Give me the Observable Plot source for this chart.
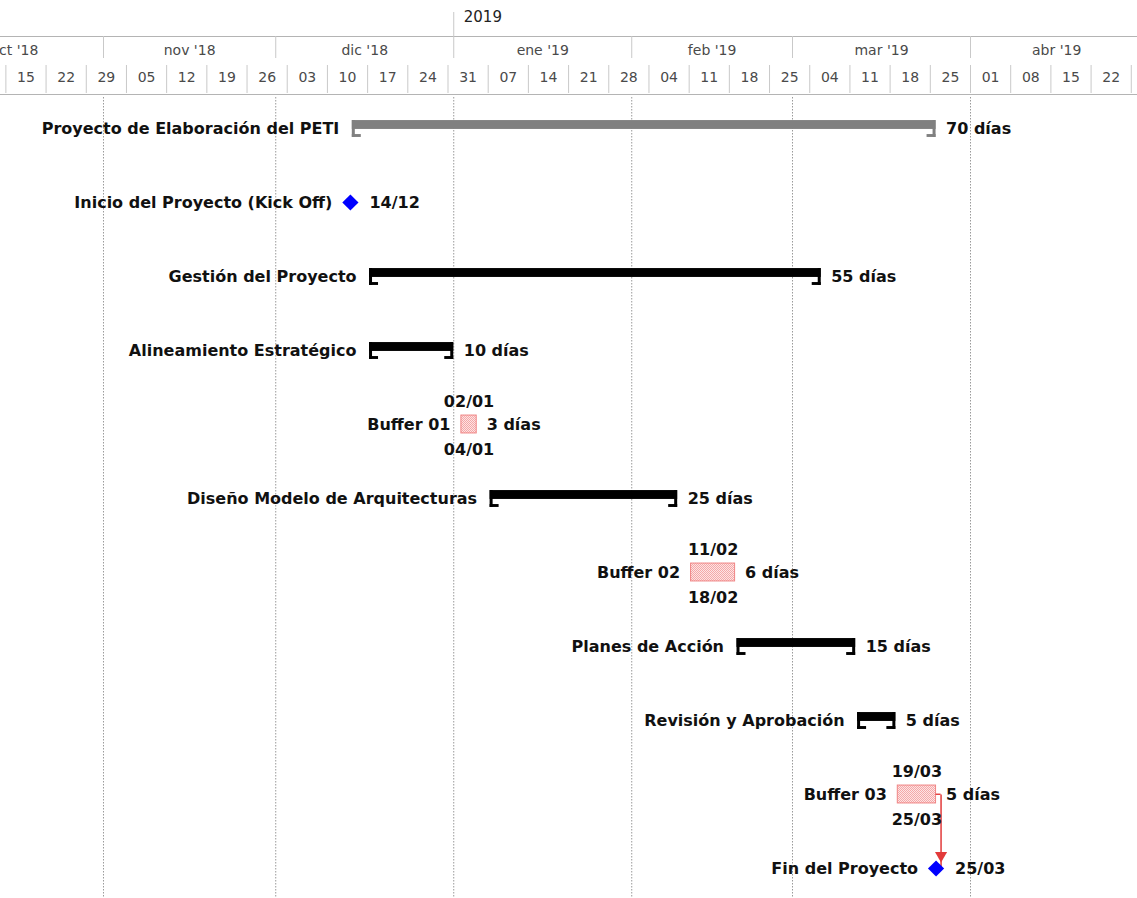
<!DOCTYPE html>
<html><head><meta charset="utf-8">
<script src="https://cdn.jsdelivr.net/npm/d3@7"></script>
<script src="https://cdn.jsdelivr.net/npm/@observablehq/plot@0.6"></script>
<style>
body{margin:0;background:#fff;overflow:hidden;}
#chart svg{display:block}
</style></head><body><div id="chart"></div>
<script>
// ---- data ----
const tasks = ["Proyecto de Elaboración del PETI","Inicio del Proyecto (Kick Off)","Gestión del Proyecto","Alineamiento Estratégico","Buffer 01","Diseño Modelo de Arquitecturas","Buffer 02","Planes de Acción","Revisión y Aprobación","Buffer 03","Fin del Proyecto"];
const kinds = ["summary","milestone","task","task","buffer","task","buffer","task","task","buffer","milestone"];
const starts = ["2018-12-14","2018-12-14","2018-12-17","2018-12-17","2019-01-02","2019-01-07","2019-02-11","2019-02-19","2019-03-12","2019-03-19","2019-03-25"];
const finishes = ["2019-03-25","2018-12-13","2019-03-05","2018-12-31","2019-01-04","2019-02-08","2019-02-18","2019-03-11","2019-03-18","2019-03-25","2019-03-25"];
const rightLabels = ["70 días","14/12","55 días","10 días","3 días","25 días","6 días","15 días","5 días","5 días","25/03"];
const links = [["Buffer 03","Fin del Proyecto"]];

const monthStarts = ["2018-10-01","2018-11-01","2018-12-01","2019-01-01","2019-02-01","2019-03-01","2019-04-01"];
const monthLabels = ["oct '18","nov '18","dic '18","ene '19","feb '19","mar '19","abr '19"];
const weekStarts = ["2018-10-15","2018-10-22","2018-10-29","2018-11-05","2018-11-12","2018-11-19","2018-11-26","2018-12-03","2018-12-10","2018-12-17","2018-12-24","2018-12-31","2019-01-07","2019-01-14","2019-01-21","2019-01-28","2019-02-04","2019-02-11","2019-02-18","2019-02-25","2019-03-04","2019-03-11","2019-03-18","2019-03-25","2019-04-01","2019-04-08","2019-04-15","2019-04-22","2019-04-29"];
const weekLabels = ["15","22","29","05","12","19","26","03","10","17","24","31","07","14","21","28","04","11","18","25","04","11","18","25","01","08","15","22","29"];
const yearStarts = ["2019-01-01"];
const yearLabels = ["2019"];

// ---- build ----
const pd = d3.utcParse("%Y-%m-%d");
const fmt = d3.utcFormat("%d/%m");
// working day begins 08:00; a finish date is drawn up to the end of that day
const rows = tasks.map((t,i)=>{
  const s = pd(starts[i]), f = pd(finishes[i]);
  return {task:t, kind:kinds[i], sDay:s, fDay:f,
    start: kinds[i]==="milestone" ? null : d3.utcHour.offset(s, 8),
    finish: d3.utcDay.offset(f, 1),
    right:rightLabels[i]};
});
rows.forEach(d=>{ if (d.kind==="milestone") d.start = d.finish; });
const bars = rows.filter(d=>d.kind==="summary"||d.kind==="task");
const miles = rows.filter(d=>d.kind==="milestone");
const bufs = rows.filter(d=>d.kind==="buffer");
const byName = Object.fromEntries(rows.map(d=>[d.task,d]));
const linkRows = links.map(([a,b])=>({from:a,to:b,x:byName[a].finish}));
const months = monthStarts.map((s,i)=>{const d=pd(s); return {start:d, mid:new Date((+d + +d3.utcMonth.offset(d,1))/2), label:monthLabels[i]};});
const weeks = weekStarts.map((s,i)=>{const d=pd(s); return {start:d, mid:d3.utcHour.offset(d,84), label:weekLabels[i]};});
const years = yearStarts.map((s,i)=>({start:pd(s), label:yearLabels[i]}));

const W = 1137, HH = 97, HB = 801;
const xDomain = [new Date("2018-10-14T01:30Z"), new Date("2019-04-30T02:00Z")];
const xOpt = {type:"utc", domain:xDomain, range:[0,W], axis:null};
const font = "'DejaVu Sans', Tahoma, sans-serif";
const lineC = "#c9c9c9", hdrText = "#4a4a4a";
const visibleWeeks = weeks.filter(d=>d.mid < xDomain[1]);

const header = Plot.plot({
  width:W, height:HH, margin:0,
  x:xOpt,
  style:{fontFamily:font, background:"#fff", overflow:"visible"},
  marks:[
    Plot.frame({stroke:"#b4b4b4", insetTop:36, insetBottom:HH-94, insetLeft:-2, insetRight:-2}),
    Plot.ruleX(years, {x:"start", stroke:lineC, insetTop:12, insetBottom:HH-36}),
    Plot.ruleX(months, {x:"start", stroke:lineC, insetTop:36, insetBottom:HH-58}),
    Plot.ruleX(weeks, {x:"start", stroke:lineC, insetTop:65, insetBottom:HH-93}),
    Plot.text(years, {x:"start", text:"label", dx:10, textAnchor:"start", frameAnchor:"top", lineAnchor:"middle", dy:17, fill:"#222", fontSize:15}),
    Plot.text(months, {x:"mid", text:"label", frameAnchor:"top", lineAnchor:"middle", dy:50, fill:hdrText, fontSize:14}),
    Plot.text(visibleWeeks, {x:"mid", text:"label", frameAnchor:"top", lineAnchor:"middle", dy:77, fill:hdrText, fontSize:14})
  ]
});

const step = 74.1, first = 31;
const half = step/2;
const yOpt = {type:"band", domain:tasks, range:[first-half, first+half+step*(tasks.length-1)], padding:0, axis:null};
const lbl = {fontSize:16, fontWeight:"bold", fill:"#111"};
const red = "#e23a3a";
const barFill = d=>d.kind==="summary"?"#808080":"#000";
const bufMid = d=>new Date((+d.start + +d.finish)/2);

const body = Plot.plot({
  width:W, height:HB, margin:0,
  x:xOpt, y:yOpt,
  style:{fontFamily:font, background:"#fff", overflow:"visible"},
  marks:[
    Plot.ruleX(months, {x:"start", stroke:"#9a9a9a", strokeDasharray:"1.5,1.5"}),
    // summary / task bars with end brackets
    Plot.barX(bars, {x1:"start", x2:"finish", y:"task", fill:barFill, insetTop:half-8, insetBottom:half-1}),
    Plot.barX(bars, {x1:"start", x2:"start", y:"task", fill:barFill, insetRight:-3, insetTop:half-8, insetBottom:half-9}),
    Plot.barX(bars, {x1:"start", x2:"start", y:"task", fill:barFill, insetRight:-9, insetTop:half+6, insetBottom:half-9}),
    Plot.barX(bars, {x1:"finish", x2:"finish", y:"task", fill:barFill, insetLeft:-3, insetTop:half-8, insetBottom:half-9}),
    Plot.barX(bars, {x1:"finish", x2:"finish", y:"task", fill:barFill, insetLeft:-9, insetTop:half+6, insetBottom:half-9}),
    // buffers
    Plot.barX(bufs, {x1:"start", x2:"finish", y:"task", fill:"url(#bufpat)", stroke:"#f08585", strokeWidth:1, insetTop:half-9, insetBottom:half-9}),
    // link arrow
    Plot.barX(linkRows, {x1:"x", x2:"x", y:"from", fill:red, insetRight:-5, insetTop:half-0.5, insetBottom:half-1}),
    Plot.link(linkRows, {x1:"x", x2:"x", y1:"from", y2:"to", dx:5, stroke:red, strokeWidth:1.5}),
    Plot.dot(linkRows, {x:"x", y:"to", dx:5, dy:-13, symbol:"triangle", rotate:180, r:4.5, fill:red}),
    // milestones
    Plot.dot(miles, {x:"start", y:"task", symbol:"diamond2", r:7.3, fill:"#0000ff"}),
    // labels
    Plot.text(bars, {x:"start", y:"task", text:"task", textAnchor:"end", dx:-13, ...lbl}),
    Plot.text(bars, {x:"finish", y:"task", text:"right", textAnchor:"start", dx:10, ...lbl}),
    Plot.text(miles, {x:"start", y:"task", text:"task", textAnchor:"end", dx:-18, ...lbl}),
    Plot.text(miles, {x:"start", y:"task", text:"right", textAnchor:"start", dx:19, ...lbl}),
    Plot.text(bufs, {x:"start", y:"task", text:"task", textAnchor:"end", dx:-11, ...lbl}),
    Plot.text(bufs, {x:"finish", y:"task", text:"right", textAnchor:"start", dx:10, ...lbl}),
    Plot.text(bufs, {x:bufMid, y:"task", text:d=>fmt(d.sDay), dy:-23, ...lbl}),
    Plot.text(bufs, {x:bufMid, y:"task", text:d=>fmt(d.fDay), dy:25, ...lbl})
  ]
});

// pattern for buffer fill
d3.select(body).insert("defs", ":first-child").html(
  '<pattern id="bufpat" width="2" height="2" patternUnits="userSpaceOnUse">' +
  '<rect width="2" height="2" fill="#f4a8a8"/><rect width="1" height="1" fill="#fde4e4"/><rect x="1" y="1" width="1" height="1" fill="#fde4e4"/></pattern>');

const c = document.getElementById("chart");
c.appendChild(header);
c.appendChild(body);
</script>
</body></html>
